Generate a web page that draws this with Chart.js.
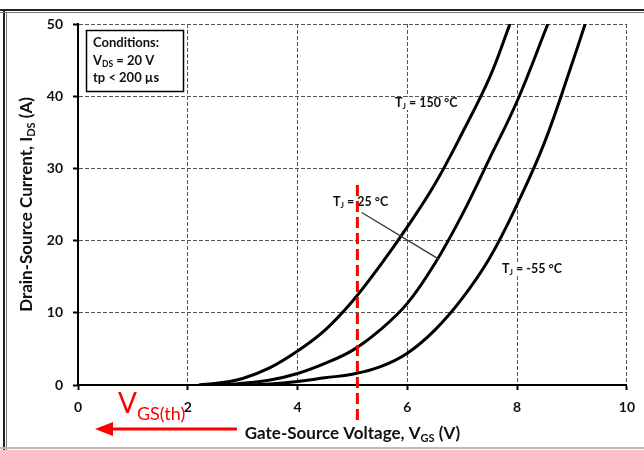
<!DOCTYPE html>
<html>
<head>
<meta charset="utf-8">
<title>Transfer Characteristics</title>
<script src="https://cdn.jsdelivr.net/npm/chart.js@4.4.0/dist/chart.umd.min.js"></script>
<style>
  html, body { margin: 0; padding: 0; background: #fff; }
  #wrap { width: 644px; height: 450px; }
</style>
</head>
<body>
<div id="wrap"><canvas id="transferChart" width="644" height="450"></canvas></div>
<script>
// Drain current vs gate-source voltage at three junction temperatures
const xTicks = [0, 2, 4, 6, 8, 10];
const yTicks = [0, 10, 20, 30, 40, 50];

const vgs150 = [2.2, 2.6, 3.0, 3.5, 4.0, 4.5, 5.0, 5.5, 6.0, 6.5, 7.0, 7.5, 7.87];
const ids150 = [0, 0.3, 0.9, 2.4, 4.7, 7.6, 11.6, 16.5, 21.9, 27.8, 34.9, 42.6, 50];

const vgs25 = [2.5, 3.0, 3.5, 4.0, 4.5, 5.0, 5.5, 6.0, 6.5, 7.0, 7.5, 8.0, 8.56];
const ids25 = [0, 0.25, 0.7, 1.6, 3.0, 4.8, 7.6, 11.3, 16.8, 23.6, 31.4, 39.3, 50];

const vgsM55 = [3.0, 3.5, 4.0, 4.5, 5.0, 5.5, 6.0, 6.5, 7.0, 7.5, 8.0, 8.5, 9.0, 9.24];
const idsM55 = [0, 0.15, 0.5, 1.0, 1.5, 2.5, 4.4, 7.6, 12.0, 17.6, 25.0, 33.6, 44.5, 50];

// threshold marker
const vgsTh = 5.09;

const FONT = 'Lato, "Open Sans", sans-serif';
const INK = '#111';

function toPoints(xs, ys) {
    return xs.map((x, i) => ({ x: x, y: ys[i] }));
}

// draws a run of text pieces, some of them lowered as subscripts
function drawRich(ctx, parts, x, y, align) {
    let total = 0;
    parts.forEach(p => { ctx.font = p.font; total += ctx.measureText(p.text).width; });
    let cx = align === 'center' ? x - total / 2 : x;
    parts.forEach(p => {
        ctx.font = p.font;
        ctx.fillText(p.text, cx, y + (p.dy || 0));
        cx += ctx.measureText(p.text).width;
    });
    return total;
}

function tjLabel(ctx, x, y, temp, clear) {
    const big = 'bold 12.5px ' + FONT;
    const small = 'bold 8px ' + FONT;
    const parts = [
        { text: 'T', font: big },
        { text: 'J', font: small, dy: 2 },
        { text: ' = ' + temp + ' °C', font: big }
    ];
    if (clear) {
        let w = 0;
        parts.forEach(p => { ctx.font = p.font; w += ctx.measureText(p.text).width; });
        ctx.fillStyle = '#fff';
        ctx.fillRect(x - 1, y - 10, w + 2, 13);
    }
    ctx.fillStyle = INK;
    drawRich(ctx, parts, x, y, 'left');
}

const decorations = {
    id: 'decorations',
    afterDraw(chart) {
        const ctx = chart.ctx;
        const xs = chart.scales.x;
        const ys = chart.scales.y;
        ctx.save();
        ctx.textBaseline = 'alphabetic';

        // outer frame
        ctx.fillStyle = '#222';
        ctx.fillRect(0, 9, 644, 2);
        ctx.fillRect(3, 9, 2, 441);
        ctx.fillStyle = '#777';
        ctx.fillRect(0, 12, 644, 1);
        ctx.fillRect(6, 12, 1, 438);
        ctx.fillStyle = '#bbb';
        ctx.fillRect(0, 447, 644, 2);

        // conditions box
        ctx.fillStyle = '#fff';
        ctx.fillRect(86, 30, 98, 62);
        ctx.strokeStyle = '#000';
        ctx.lineWidth = 1.5;
        ctx.strokeRect(86.5, 30.5, 97, 61);
        ctx.fillStyle = INK;
        ctx.font = 'bold 13px ' + FONT;
        ctx.fillText('Conditions:', 93, 47);
        drawRich(ctx, [
            { text: 'V', font: 'bold 13px ' + FONT },
            { text: 'DS', font: 'bold 8.5px ' + FONT, dy: 2 },
            { text: ' = 20 V', font: 'bold 13px ' + FONT }
        ], 93, 65, 'left');
        ctx.font = 'bold 13px ' + FONT;
        ctx.fillText('tp < 200 µs', 93, 82);

        // temperature labels
        tjLabel(ctx, 395, 107, '150', true);
        tjLabel(ctx, 333, 206, '25', false);
        tjLabel(ctx, 502, 273, '-55', true);

        // leader from the 25 °C label to its curve
        ctx.strokeStyle = '#333';
        ctx.lineWidth = 1.2;
        ctx.beginPath();
        ctx.moveTo(xs.getPixelForValue(5.17), ys.getPixelForValue(23.9));
        ctx.lineTo(xs.getPixelForValue(6.58), ys.getPixelForValue(17.4));
        ctx.stroke();

        // threshold line
        const xt = xs.getPixelForValue(vgsTh);
        ctx.strokeStyle = '#ff0000';
        ctx.lineWidth = 3;
        ctx.setLineDash([11, 5]);
        ctx.beginPath();
        ctx.moveTo(xt, ys.getPixelForValue(27.7));
        ctx.lineTo(xt, 420);
        ctx.stroke();
        ctx.setLineDash([]);

        // threshold arrow and label
        ctx.beginPath();
        ctx.moveTo(237, 429);
        ctx.lineTo(110, 429);
        ctx.stroke();
        ctx.fillStyle = '#ff0000';
        ctx.beginPath();
        ctx.moveTo(95, 429);
        ctx.lineTo(113, 422);
        ctx.lineTo(113, 436);
        ctx.closePath();
        ctx.fill();
        drawRich(ctx, [
            { text: 'V', font: '28px ' + FONT },
            { text: 'GS(th)', font: '18px ' + FONT, dy: 7 }
        ], 118, 413, 'left');

        // axis titles
        ctx.fillStyle = INK;
        const xc = (xs.left + xs.right) / 2;
        drawRich(ctx, [
            { text: 'Gate-Source Voltage, V', font: 'bold 17px ' + FONT },
            { text: 'GS', font: 'bold 11px ' + FONT, dy: 3 },
            { text: ' (V)', font: 'bold 17px ' + FONT }
        ], xc, 439, 'center');

        ctx.translate(32, (ys.top + ys.bottom) / 2);
        ctx.rotate(-Math.PI / 2);
        drawRich(ctx, [
            { text: 'Drain-Source Current, I', font: 'bold 17px ' + FONT },
            { text: 'DS', font: 'bold 11px ' + FONT, dy: 3 },
            { text: ' (A)', font: 'bold 17px ' + FONT }
        ], 0, 0, 'center');

        ctx.restore();
    }
};

const curveStyle = {
    borderColor: '#000',
    borderWidth: 3,
    pointRadius: 0,
    fill: false,
    tension: 0.4
};

const axisCommon = {
    type: 'linear',
    grid: {
        color: '#555',
        lineWidth: 1,
        tickLength: 5,
        tickColor: '#000',
        tickWidth: 2,
        tickBorderDash: []
    },
    border: { display: true, color: '#000', width: 2, dash: [4, 2] },
    ticks: {
        color: INK,
        font: { family: FONT, weight: 'bold', size: 14 },
        maxRotation: 0
    }
};

new Chart(document.getElementById('transferChart'), {
    type: 'line',
    data: {
        datasets: [
            Object.assign({ label: 'TJ = 150 °C', data: toPoints(vgs150, ids150) }, curveStyle),
            Object.assign({ label: 'TJ = 25 °C', data: toPoints(vgs25, ids25) }, curveStyle),
            Object.assign({ label: 'TJ = -55 °C', data: toPoints(vgsM55, idsM55) }, curveStyle)
        ]
    },
    options: {
        responsive: false,
        animation: false,
        layout: { padding: { top: 24, right: 17, left: 0, bottom: 0 } },
        plugins: {
            legend: { display: false },
            tooltip: { enabled: false }
        },
        scales: {
            x: Object.assign({}, axisCommon, {
                min: 0, max: 10,
                afterBuildTicks: s => { s.ticks = xTicks.map(v => ({ value: v })); },
                afterFit: s => { s.height = 65; },
                ticks: Object.assign({}, axisCommon.ticks, { padding: 9 })
            }),
            y: Object.assign({}, axisCommon, {
                min: 0, max: 50,
                afterBuildTicks: s => { s.ticks = yTicks.map(v => ({ value: v })); },
                afterFit: s => { s.width = 78; },
                ticks: Object.assign({}, axisCommon.ticks, { padding: 10 })
            })
        }
    },
    plugins: [decorations]
});
</script>
</body>
</html>
